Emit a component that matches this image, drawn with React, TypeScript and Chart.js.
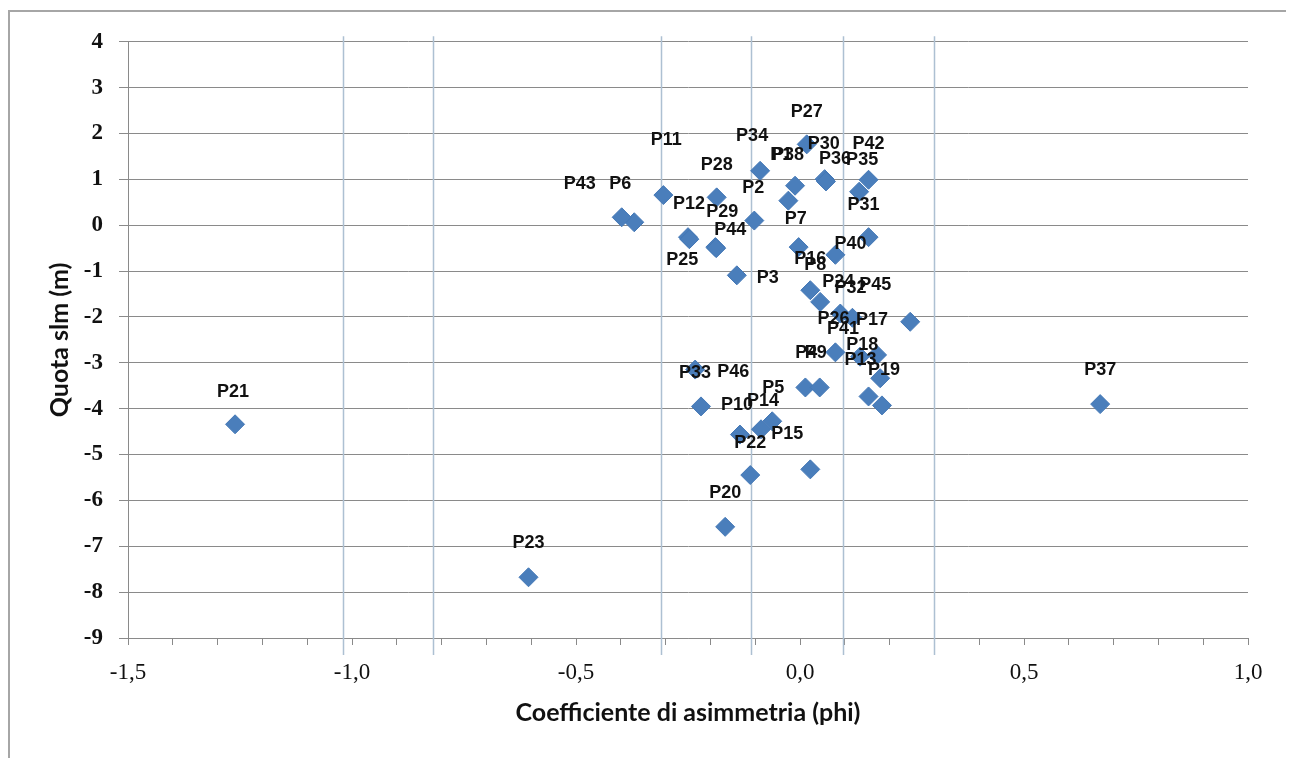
import React, { useEffect, useRef } from "react";
import { Chart, registerables } from "chart.js";

Chart.register(...registerables);

// ---- data ----
const pointNames = [
  "P1", "P2", "P3", "P4", "P5", "P6", "P7", "P8", "P9", "P10",
  "P11", "P12", "P13", "P14", "P15", "P16", "P17", "P18", "P19", "P20",
  "P21", "P22", "P23", "P24", "P25", "P26", "P27", "P28", "P29", "P30",
  "P31", "P32", "P33", "P34", "P35", "P36", "P37", "P38", "P40",
  "P41", "P42", "P43", "P44", "P45", "P46",
];

const skewness = [
  -0.026, -0.102, -0.141, 0.012, -0.062, -0.370, -0.003, 0.045, 0.044, -0.134,
  -0.305, -0.250, 0.153, -0.087, 0.023, 0.023, 0.172, 0.179, 0.183, -0.167,
  -1.261, -0.111, -0.606, 0.090, -0.247, 0.079, 0.015, -0.186, -0.189, 0.055,
  0.153, 0.117, -0.221, -0.089, 0.132, 0.058, 0.670, -0.011, 0.079,
  0.134, 0.153, -0.398, -0.187, 0.246, -0.234,
];

const elevation = [
  0.536, 0.102, -1.092, -3.537, -4.275, 0.065, -0.477, -1.671, -3.537, -4.564,
  0.658, -0.260, -3.733, -4.449, -5.323, -1.417, -2.828, -3.336, -3.928, -6.576,
  -4.340, -5.447, -7.676, -1.925, -0.304, -2.771, 1.764, 0.608, -0.477, 1.005,
  -0.260, -2.018, -3.950, 1.187, 0.731, 0.955, -3.900, 0.862, -0.645,
  -2.865, 0.992, 0.174, -0.499, -2.105, -3.147,
];

// label nudges (pixels, relative to the marker)
const labelDx = [
  -7, -1, 31, 1, 1, -14, -3, -5, -4, -3,
  3, 1, -8, 2, -23, 0, -5, -18, 2, 0,
  -2, 0, 0, -2, -7, -2, 0, 0, 7, -1,
  -5, -2, -6, -8, 3, 9, 0, -7, 15,
  -17, 0, -42, 14, -35, 38,
];
const labelDy = [
  -46, -33, 3, -34, -33, -38, -28, -37, -34, -30,
  -55, -33, -36, -28, -35, -31, -35, -33, -35, -34,
  -32, -32, -34, -31, 21, -33, -32, -32, -35, -35,
  -32, -30, -33, -35, -32, -22, -34, -31, -11,
  -28, -36, -33, -18, -37, 2,
];

// vertical reference lines (skewness class limits)
const classLimits = [-1.02, -0.82, -0.31, -0.11, 0.097, 0.3];
const classLineTop = 4.12;
const classLineBottom = -9.37;

const xMin = -1.5;
const xMax = 1.0;
const yMin = -9;
const yMax = 4;

const xTitle = "Coefficiente di asimmetria (phi)";
const yTitle = "Quota slm (m)";

const GRID = "#8a8a8a";

const classLinesPlugin = {
  id: "classLines",
  beforeDatasetsDraw(chart: any) {
    const { ctx, scales } = chart;
    const xs = scales.x;
    const ys = scales.y;
    ctx.save();
    ctx.strokeStyle = "#adc0d2";
    ctx.lineWidth = 1.5;
    for (const v of classLimits) {
      const px = Math.round(xs.getPixelForValue(v)) + 0.5;
      ctx.beginPath();
      ctx.moveTo(px, ys.getPixelForValue(classLineTop));
      ctx.lineTo(px, ys.getPixelForValue(classLineBottom));
      ctx.stroke();
    }
    ctx.restore();
  },
};

const pointLabelsPlugin = {
  id: "pointLabels",
  afterDatasetsDraw(chart: any) {
    const { ctx } = chart;
    const meta = chart.getDatasetMeta(0);
    ctx.save();
    ctx.font = "bold 18px 'Liberation Sans', Arial, sans-serif";
    ctx.fillStyle = "#111";
    ctx.textAlign = "center";
    ctx.textBaseline = "middle";
    meta.data.forEach((el: any, i: number) => {
      ctx.fillText(pointNames[i], el.x + labelDx[i], el.y + labelDy[i]);
    });
    ctx.restore();
  },
};

function fmtX(v: number): string {
  const twice = v * 2;
  if (Math.abs(twice - Math.round(twice)) > 1e-6) return "";
  const r = Math.round(twice) / 2;
  return (Math.abs(r) < 1e-9 ? 0 : r).toFixed(1).replace(".", ",");
}

export default function App() {
  const canvasRef = useRef<HTMLCanvasElement | null>(null);

  useEffect(() => {
    if (!canvasRef.current) return;
    const points = skewness.map((x, i) => ({ x, y: elevation[i] }));
    const chart = new Chart(canvasRef.current, {
      type: "scatter",
      data: {
        datasets: [
          {
            data: points,
            pointStyle: "rectRot",
            pointRadius: 9.5,
            pointHoverRadius: 9.5,
            backgroundColor: "#4a7ebb",
            borderColor: "#4478b6",
            borderWidth: 1,
          },
        ],
      },
      options: {
        responsive: false,
        animation: false,
        events: [],
        layout: { autoPadding: false, padding: { left: 0, top: 26.7, right: 38, bottom: 0 } },
        plugins: {
          legend: { display: false },
          tooltip: { enabled: false },
        },
        scales: {
          x: {
            type: "linear",
            min: xMin,
            max: xMax,
            afterFit: (s: any) => {
              s.height = 130;
            },
            ticks: {
              stepSize: 0.1,
              autoSkip: false,
              maxRotation: 0,
              padding: 14,
              color: "#111",
              font: { family: "'Liberation Serif', 'Times New Roman', serif", size: 23 },
              callback: (v: any) => fmtX(Number(v)),
            },
            grid: {
              drawOnChartArea: false,
              drawTicks: true,
              tickLength: 7,
              color: GRID,
              lineWidth: 1,
            },
            border: { display: true, color: GRID, width: 1 },
            title: {
              display: true,
              text: xTitle,
              color: "#111",
              font: { family: "Lato, 'Open Sans', sans-serif", size: 25, weight: "bold" },
              padding: { top: 0, bottom: 40 },
            },
          },
          y: {
            type: "linear",
            min: yMin,
            max: yMax,
            afterFit: (s: any) => {
              s.width = 118;
            },
            ticks: {
              stepSize: 1,
              padding: 16,
              color: "#111",
              font: { family: "'Liberation Serif', 'Times New Roman', serif", size: 23, weight: "bold" },
            },
            grid: {
              color: GRID,
              lineWidth: 1,
              tickLength: 9,
            },
            border: { display: true, color: GRID, width: 1 },
            title: {
              display: true,
              text: yTitle,
              color: "#111",
              font: { family: "Lato, 'Open Sans', sans-serif", size: 25, weight: "bold" },
              padding: { top: 35, bottom: 0 },
            },
          },
        },
      },
      plugins: [classLinesPlugin, pointLabelsPlugin],
    } as any);
    return () => chart.destroy();
  }, []);

  return (
    <div
      style={{
        position: "relative",
        top: 2,
        width: 1280,
        height: 760,
        border: "2px solid #a6a6a6",
        boxSizing: "border-box",
        background: "#fff",
      }}
    >
      <canvas ref={canvasRef} width={1276} height={756} style={{ display: "block" }} />
    </div>
  );
}
